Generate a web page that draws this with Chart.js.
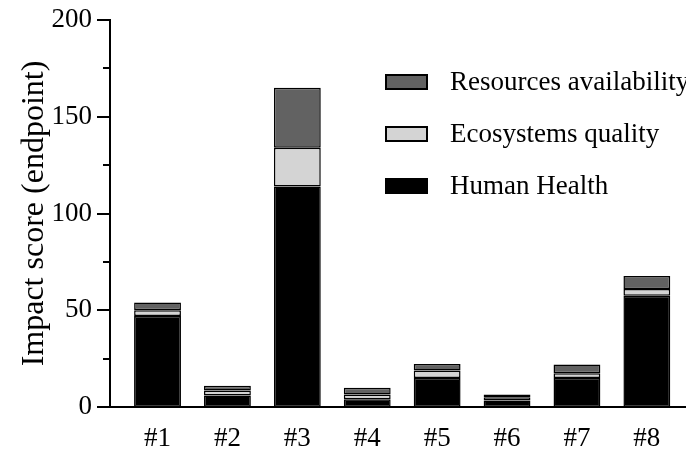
<!DOCTYPE html>
<html>
<head>
<meta charset="utf-8">
<script src="https://cdn.jsdelivr.net/npm/chart.js@4.4.1/dist/chart.umd.min.js"></script>
<style>
  html, body { margin: 0; padding: 0; background: #fff; }
  #wrap { position: relative; width: 686px; height: 455px; }
</style>
</head>
<body>
<div id="wrap"><canvas id="c" width="686" height="455"></canvas></div>
<script>
// Scenario labels along the x axis
const categories = ['#1', '#2', '#3', '#4', '#5', '#6', '#7', '#8'];

// Endpoint impact scores per damage category
const humanHealth   = [47, 6, 114, 4, 15, 3.3, 15, 57.5];
const ecosystems    = [3, 2.5, 20, 2.5, 3.8, 1.7, 2.5, 3.5];
const resources     = [4, 2.5, 31, 3.5, 3.4, 1.5, 4.5, 6.7];

// Y axis tick values (labelled every 50, minor marks every 25)
const yTicks = [0, 50, 100, 150, 200];
const yMinorTicks = [25, 75, 125, 175];

const FONT = 'Liberation Serif, Times New Roman, serif';
const FS = 27;

const toPoints = arr => arr.map((v, i) => ({ x: i + 1, y: v }));

// Outward tick marks on the y axis, long for labelled values, short for the rest
const yTickMarks = {
  id: 'yTickMarks',
  afterDraw(chart) {
    const y = chart.scales.y;
    const ctx = chart.ctx;
    const x0 = chart.chartArea.left;
    ctx.save();
    ctx.strokeStyle = '#000';
    ctx.lineWidth = 2;
    const mark = (v, len) => {
      const p = Math.round(y.getPixelForValue(v));
      ctx.beginPath();
      ctx.moveTo(x0 - len, p);
      ctx.lineTo(x0, p);
      ctx.stroke();
    };
    yTicks.forEach(v => mark(v, 13));
    yMinorTicks.forEach(v => mark(v, 7));
    ctx.restore();
  }
};

// Legend drawn inside the plot, top series first
const boxLegend = {
  id: 'boxLegend',
  afterDraw(chart) {
    const ctx = chart.ctx;
    const ds = chart.data.datasets.slice().reverse();
    const rows = [82, 134, 186];
    ctx.save();
    ctx.font = FS + 'px ' + FONT;
    ctx.textBaseline = 'middle';
    ds.forEach((d, i) => {
      const cy = rows[i];
      ctx.fillStyle = d.backgroundColor;
      ctx.fillRect(386, cy - 7, 41, 14);
      ctx.strokeStyle = '#000';
      ctx.lineWidth = 2;
      ctx.strokeRect(386, cy - 7, 41, 14);
      ctx.fillStyle = '#000';
      ctx.fillText(d.label, 450, cy + 1);
    });
    ctx.restore();
  }
};

const common = { borderColor: '#000', borderWidth: 1.5, borderSkipped: false, barPercentage: 0.67, categoryPercentage: 1, stack: 's' };

new Chart(document.getElementById('c'), {
  type: 'bar',
  data: {
    datasets: [
      Object.assign({ label: 'Human Health', data: toPoints(humanHealth), backgroundColor: '#000000' }, common),
      Object.assign({ label: 'Ecosystems quality', data: toPoints(ecosystems), backgroundColor: '#d4d4d4' }, common),
      Object.assign({ label: 'Resources availability', data: toPoints(resources), backgroundColor: '#626262' }, common)
    ]
  },
  options: {
    responsive: false,
    animation: false,
    devicePixelRatio: 1,
    layout: { padding: { left: 0, right: 0, top: 20, bottom: 0 } },
    plugins: { legend: { display: false }, tooltip: { enabled: false } },
    scales: {
      x: {
        type: 'linear',
        offset: false,
        stacked: true,
        min: 0.32,
        max: 8.56,
        grid: { display: false, drawTicks: false, offset: false },
        border: { display: true, color: '#000', width: 2 },
        afterBuildTicks: s => { s.ticks = categories.map((_, i) => ({ value: i + 1 })); },
        afterFit: s => { s.height = 48; s.paddingLeft = 0; s.paddingRight = 0; },
        ticks: {
          autoSkip: false,
          maxRotation: 0,
          padding: 16,
          color: '#000',
          font: { family: FONT, size: FS },
          callback: v => categories[v - 1]
        }
      },
      y: {
        stacked: true,
        min: 0,
        max: 200,
        grid: { display: false, drawTicks: false },
        border: { display: true, color: '#000', width: 2 },
        afterBuildTicks: s => { s.ticks = yTicks.map(v => ({ value: v })); },
        afterFit: s => { s.width = 110; s.paddingTop = 0; s.paddingBottom = 0; },
        ticks: {
          padding: 18,
          color: '#000',
          font: { family: FONT, size: FS }
        },
        title: {
          display: true,
          text: 'Impact score (endpoint)',
          color: '#000',
          font: { family: FONT, size: 32 },
          padding: { top: 15, bottom: 0 }
        }
      }
    }
  },
  plugins: [yTickMarks, boxLegend]
});
</script>
</body>
</html>
